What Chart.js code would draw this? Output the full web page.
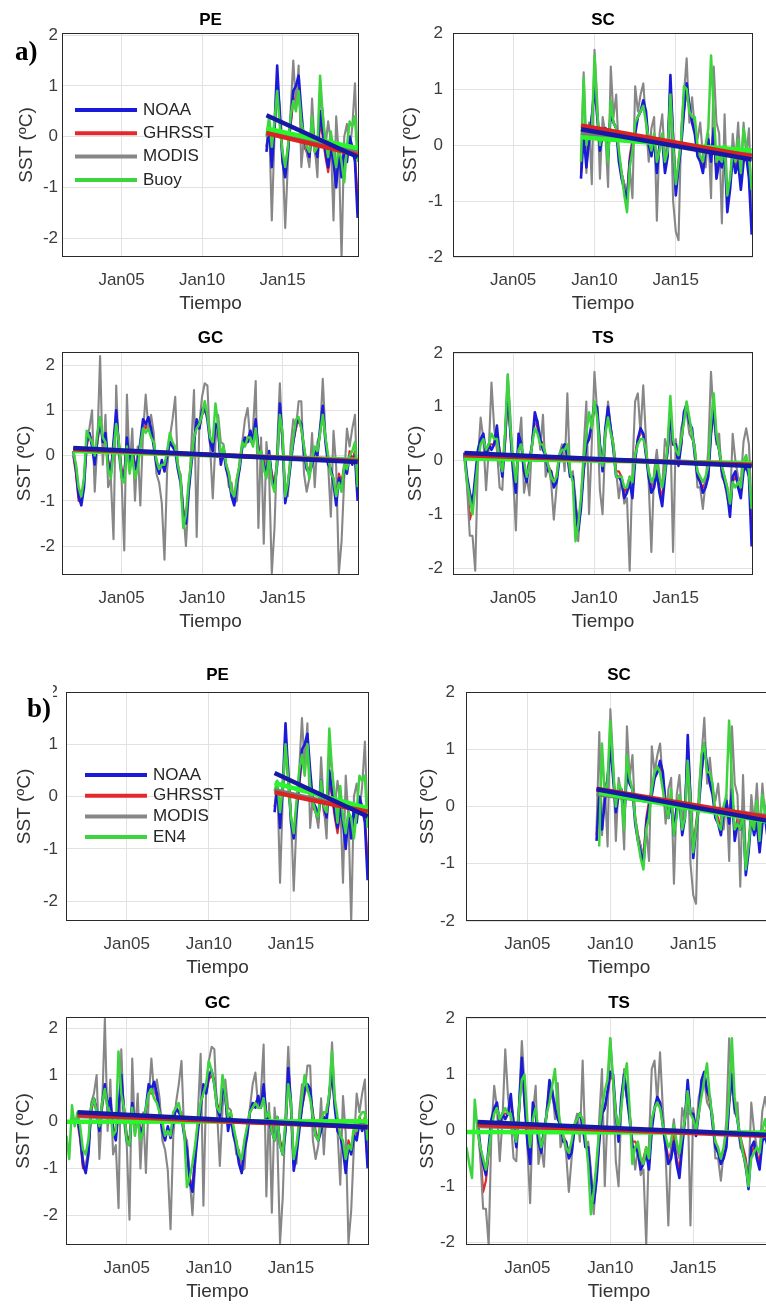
<!DOCTYPE html>
<html>
<head>
<meta charset="utf-8">
<script src="https://cdn.jsdelivr.net/npm/chart.js@4.4.1/dist/chart.umd.min.js"></script>
<style>
  html, body { margin: 0; padding: 0; background: #fff; overflow: hidden; }
  #fig { position: relative; width: 766px; height: 1306px; overflow: hidden; }
  #fig canvas { position: absolute; }
  .tag { position: absolute; font: bold 27px "Liberation Serif", serif; line-height: 1; color: #000; background: #fff; padding-right: 2px; }
</style>
</head>
<body>
<div id="fig">
  <div class="tag" style="left:15px; top:38px;">a)</div>
  <div class="tag" style="left:19px; top:682px; padding-top:13px; padding-left:8px;">b)</div>
</div>
<script>
// time axis
const xTickYears = [2005, 2010, 2015];
const xTickLabels = ['Jan05', 'Jan10', 'Jan15'];
const yTickValues = [-2, -1, 0, 1, 2];
const stepYears = 2 / 12;

const sourcesA = ['NOAA', 'GHRSST', 'MODIS', 'Buoy'];
const sourcesB = ['NOAA', 'GHRSST', 'MODIS', 'EN4'];

// series start (decimal years)
const peStart = 2014.0, scStart = 2009.17, gcStart = 2002.0, tsStart = 2002.0;
const peEn4Start = 2014.0, scEn4Start = 2009.33, gcEn4Start = 2001.33, tsEn4Start = 2001.33;

// PE
const peNoaa = [-0.3, 0.2, -0.6, 0.2, 1.4, 0.4, -0.5, -0.8, -0.3, 0.3,
  0.9, 1.0, 1.2, 0.5, -0.1, -0.2, -0.4, 0.3, -0.2, -0.4,
  0.5, 0.1, -0.3, -0.6, -0.2, -0.5, -1.0, -0.3, -0.8, -0.2,
  -0.5, 0.0, -0.2, -0.5, -1.6];
const peGhrsst = [-0.2, 0.1, -0.4, 0.1, 1.0, 0.3, -0.4, -0.7, -0.2, 0.2,
  0.7, 0.8, 0.9, 0.3, -0.2, -0.3, -0.5, 0.2, -0.3, -0.5,
  0.3, 0.0, -0.4, -0.7, -0.3, -0.5, -0.8, -0.4, -0.6, -0.3,
  -0.4, -0.1, -0.3, -0.4, -1.2];
const peModis = [-0.2, 0.3, -1.65, 0.0, 1.0, 0.6, -0.3, -1.8, -0.5, 0.5,
  1.5, 0.6, 1.4, -0.6, 0.0, -0.3, -0.6, 0.75, -0.2, -0.8,
  0.8, 0.5, -0.2, 0.3, -0.1, -1.65, 0.4, -0.4, -2.4, 0.0,
  0.25, -0.3, 0.2, 1.05, -0.5];
const peBuoy = [0.0, 0.4, -0.2, 0.3, 0.9, 0.2, -0.3, -0.6, -0.2, 0.4,
  0.7, 0.5, 0.9, 0.3, 0.0, -0.2, -0.3, 0.4, -0.3, -0.2,
  1.2, 0.4, -0.1, -0.4, 0.1, -0.3, -0.6, -0.2, -0.5, -0.9,
  -0.2, 0.3, 0.2, 0.4, -0.5];
const peEn4 = [0.1, 0.3, -0.3, 0.2, 1.0, 0.3, -0.4, -0.7, -0.1, 0.5,
  0.8, 0.4, 1.0, 0.2, -0.1, -0.3, -0.4, 0.3, -0.2, -0.3,
  1.3, 0.5, 0.0, -0.5, 0.2, -0.4, -0.7, -0.3, -0.4, -0.8,
  -0.3, 0.4, 0.3, 0.4, -0.6];

// SC
const scNoaa = [-0.6, 0.2, -0.4, 0.1, 0.5, 1.05, 0.5, -0.1, 0.2, 0.3,
  -0.2, 0.6, 0.4, 0.3, -0.3, -0.6, -0.8, -1.0, -0.3, 0.0,
  0.2, 0.5, 0.6, 0.8, 0.6, 0.0, -0.2, 0.1, -0.5, 0.0,
  0.1, -0.5, -0.2, 1.25, 0.1, -0.9, -0.4, 0.0, 0.6, 1.1,
  0.7, 0.4, 0.2, -0.2, -0.3, -0.5, -0.1, 0.1, -0.3, 0.3,
  -0.6, -0.3, -0.4, -0.1, -1.2, -0.8, -0.2, -0.5, -0.3, -0.8,
  -0.3, -0.2, -0.6, -1.6];
const scGhrsst = [-0.5, 0.3, -0.3, 0.2, 0.5, 1.0, 0.6, 0.0, 0.3, 0.3,
  -0.1, 0.6, 0.4, 0.3, -0.2, -0.5, -0.7, -0.9, -0.2, 0.1,
  0.3, 0.5, 0.6, 0.7, 0.5, 0.1, -0.1, 0.2, -0.4, 0.0,
  0.2, -0.4, -0.1, 1.1, 0.2, -0.8, -0.3, 0.1, 0.6, 1.0,
  0.7, 0.4, 0.3, -0.1, -0.2, -0.4, 0.0, 0.1, -0.2, 0.3,
  -0.5, -0.2, -0.3, 0.0, -1.0, -0.7, -0.1, -0.4, -0.2, -0.7,
  -0.2, -0.1, -0.5, -1.3];
const scModis = [-0.4, 1.3, -0.5, 0.4, -0.7, 1.7, 0.8, -0.6, 0.5, 0.2,
  -0.75, 1.4, 0.5, 0.9, -0.2, -0.5, -0.7, -0.9, -0.4, -0.95,
  1.05, 0.6, 0.9, 1.1, 0.4, -0.3, 0.3, 0.5, -1.35, 0.2,
  0.55, -0.3, 0.1, 0.9, -1.0, -1.55, -1.7, 0.3, 0.9, 1.55,
  0.4, 0.85, 0.3, 0.1, 0.4, -0.2, -0.4, 0.2, -0.95, 1.4,
  0.4, 0.2, -1.4, 0.55, -0.9, -0.8, 0.2, -0.3, 0.4, -0.5,
  0.4, -0.2, 0.3, -1.2];
const scBuoy = [-0.3, 1.2, 0.0, 0.3, 0.2, 1.6, 0.6, 0.0, 0.3, 0.2,
  -0.3, 0.8, 0.4, 0.3, -0.1, -0.5, -0.9, -1.2, -0.4, -0.1,
  0.4, 0.5, 0.6, 0.7, 0.4, 0.1, -0.1, 0.2, -0.3, -0.1,
  0.2, -0.3, -0.1, 0.9, 0.0, -0.7, -0.3, 0.1, 1.05, 1.0,
  0.6, 0.5, 0.5, 0.0, -0.2, -0.3, 0.0, 0.3, 1.6, 0.6,
  -0.3, -0.2, -0.3, 0.0, -0.9, -0.6, -0.1, -0.3, 0.1, -0.5,
  0.3, 0.0, -0.2, -0.8];
const scEn4 = [-0.7, 1.1, 0.2, 0.4, 1.5, 0.7, 0.0, 0.4, 0.3, -0.4,
  0.9, 0.5, 0.3, -0.2, -0.6, -0.9, -1.1, -0.4, -0.2, 0.3,
  0.6, 0.7, 0.6, 0.3, 0.0, -0.2, 0.3, -0.5, -0.2, 0.2,
  -0.4, -0.2, 0.8, 0.1, -0.8, -0.4, 0.0, 0.9, 1.1, 0.6,
  0.6, 0.4, -0.1, -0.3, -0.4, 0.0, 0.2, 1.5, 0.5, -0.4,
  -0.3, -0.4, -0.1, -1.1, -0.7, -0.2, -0.4, 0.1, -0.6, 0.2,
  -0.1, -0.3, -0.7];

// GC
const gcNoaa = [0.1, -0.3, -0.9, -1.1, -0.7, 0.3, 0.5, 0.2, -0.2, 0.4,
  0.8, 0.3, 0.5, -0.2, -0.4, 0.3, 1.0, 0.2, -0.4, -0.5,
  0.4, -0.2, 0.1, -0.3, -0.1, 0.3, 0.8, 0.7, 0.85, 0.6,
  0.2, -0.2, -0.4, -0.1, -0.35, 0.0, 0.3, 0.2, 0.1, -0.3,
  -0.6, -1.3, -1.5, -0.8, -0.2, 0.3, 0.8, 0.6, 1.0, 1.1,
  0.8, 0.3, 0.1, 0.7, 0.6, -0.2, 0.1, -0.3, -0.5, -0.9,
  -1.1, -0.6, -0.3, 0.2, 0.4, 0.3, 0.55, 0.3, 0.8, 0.1,
  0.0, -0.2, -0.4, 0.1, -0.5, -0.7, -0.2, 1.15, 0.4, -1.05,
  -0.7, -0.2, 0.3, 0.7, 0.8, 0.7, 0.1, -0.3, -0.4, -0.2,
  0.1, 0.0, 0.6, 1.1, 0.3, -0.2, -0.3, -0.6, -1.1, -0.5,
  -0.7, -0.3, -0.4, 0.0, -0.2, 0.0, -1.0];
const gcGhrsst = [0.0, -0.4, -1.0, -1.0, -0.6, 0.2, 0.5, 0.3, -0.1, 0.3,
  0.7, 0.4, 0.4, -0.1, -0.3, 0.2, 0.9, 0.3, -0.3, -0.4,
  0.3, -0.1, 0.2, -0.2, -0.1, 0.2, 0.7, 0.6, 0.8, 0.5,
  0.3, -0.1, -0.3, -0.2, -0.3, 0.1, 0.3, 0.2, 0.2, -0.2,
  -0.5, -1.2, -1.4, -0.7, -0.1, 0.3, 0.7, 0.6, 0.9, 1.0,
  0.9, 0.4, 0.2, 0.6, 0.5, -0.1, 0.2, -0.2, -0.4, -0.8,
  -1.0, -0.5, -0.2, 0.2, 0.3, 0.4, 0.5, 0.3, 0.7, 0.2,
  0.1, -0.1, -0.3, 0.0, -0.4, -0.6, -0.1, 1.0, 0.3, -0.9,
  -0.6, -0.1, 0.3, 0.6, 0.8, 0.6, 0.2, -0.2, -0.4, -0.1,
  0.1, 0.1, 0.5, 1.0, 0.4, -0.1, -0.3, -0.5, -1.0, -0.4,
  -0.6, -0.2, -0.3, 0.1, -0.1, 0.1, -0.9];
const gcModis = [0.0, -0.2, -0.8, -1.0, -0.5, 0.4, 0.6, 1.0, -0.8, 0.3,
  2.2, -0.2, 0.9, -0.7, -0.5, -1.85, 1.55, 0.0, -0.5, -2.1,
  1.35, -0.3, 0.6, -1.0, 0.2, -1.1, 0.5, 1.35, 0.6, 0.9,
  0.5, -0.4, -0.6, -1.05, -2.3, -0.3, 0.4, 0.8, 1.3, -0.3,
  -0.4, -1.2, -2.0, -0.9, 0.2, 1.45, -1.8, 0.7, 1.3, 1.6,
  1.55, 0.2, -0.95, 0.3, 0.9, 0.3, 0.25, -0.2, -0.7, -0.6,
  -1.05, -1.0, -0.1, 0.3, 0.8, 1.05, 0.3, 0.6, 1.65, -1.6,
  0.4, -1.95, 0.3, -0.4, -2.6, -1.6, 0.2, 1.6, 0.2, -0.9,
  -0.9, 0.2, 0.8, 0.6, 1.2, 1.2, -0.4, -0.8, -0.5, 0.5,
  -0.7, 0.3, 0.5, 1.7, 0.45, -0.2, -1.35, 0.55, -0.25, -2.6,
  -1.9, -0.5, 0.6, 0.2, 0.6, 0.9, -0.9];
const gcBuoy = [0.1, -0.2, -0.7, -0.9, -0.5, 0.55, 0.4, 0.3, 0.0, 0.5,
  0.85, 0.4, 0.3, -0.3, -0.5, 0.1, 0.7, 0.3, -0.5, -0.6,
  0.2, -0.4, 0.0, -0.5, -0.3, 0.2, 0.6, 0.5, 0.6, 0.4,
  0.3, -0.1, -0.3, -0.2, -0.2, 0.1, 0.5, 0.3, 0.2, -0.2,
  -0.5, -1.6, -1.3, -0.6, -0.1, 0.4, 0.6, 0.7, 0.9, 1.2,
  0.9, 0.4, 0.3, 1.15, 0.7, 0.0, 0.2, -0.2, -0.4, -0.8,
  -0.9, -0.5, -0.2, 0.3, 0.2, 0.4, 0.4, 0.2, 0.6, 0.0,
  0.1, -0.3, -0.5, 0.0, -0.6, -0.8, -0.1, 0.9, 0.5, -0.9,
  -0.6, -0.1, 0.4, 0.8, 0.85, 0.6, 0.2, -0.2, -0.5, -0.1,
  0.2, 0.1, 0.5, 0.9, 0.4, 0.0, -0.4, -0.5, -0.9, -0.6,
  -0.8, -0.2, -0.3, 0.0, 0.1, 0.3, -0.7];
const gcEn4 = [-0.3, -0.8, 0.35, -0.1,
  0.2, -0.1, -0.6, -0.7, -0.4, 0.3, 0.5, 0.2, -0.1, 0.4,
  0.7, 0.3, 0.2, -0.3, -0.2, 1.5, 0.6, 0.3, -0.4, -0.5,
  0.3, -0.3, 0.1, -0.4, -0.2, 0.3, 0.6, 0.7, 0.5, 0.4,
  0.2, 0.0, -0.3, -0.2, -0.3, 0.2, 0.3, 0.4, 0.1, -0.2,
  -1.4, -1.2, -0.9, -0.5, 0.0, 0.4, 0.6, 0.8, 1.3, 1.1,
  0.8, 0.3, 0.2, 1.0, 0.6, 0.1, 0.2, -0.1, -0.4, -0.7,
  -0.8, -0.4, -0.1, 0.2, 0.3, 0.4, 0.3, 0.3, 0.5, 0.1,
  0.2, -0.2, -0.4, 0.1, -0.5, -0.7, 0.0, 0.8, 0.4, -0.8,
  -0.5, 0.0, 0.5, 1.0, 0.7, 0.5, 0.1, -0.3, -0.4, 0.0,
  0.2, 0.2, 0.6, 1.5, 0.5, 0.1, -0.3, -0.4, -0.8, -0.5,
  -0.6, -0.1, -0.2, 0.1, 0.2, 0.2, -0.4];

// TS
const tsNoaa = [0.15, -0.3, -0.6, -0.8, -0.3, 0.2, 0.4, 0.5, 0.1, 0.3,
  0.2, 0.3, 0.65, 0.1, -0.3, 0.4, 1.3, 0.5, -0.2, -0.6,
  0.5, 0.3, -0.2, -0.4, 0.0, 0.3, 0.9, 0.7, 0.4, 0.2,
  0.1, -0.2, -0.2, -0.5, -0.4, 0.0, 0.2, 0.3, 0.1, -0.3,
  -0.3, -0.9, -1.3, -0.9, -0.2, 0.3, 0.4, 0.7, 1.05, 1.0,
  0.3, -0.2, 0.6, 1.0, 0.6, 0.2, -0.3, -0.3, -0.4, -0.7,
  -0.6, -0.4, -0.7, 0.0, 0.4, 0.6, 0.5, 0.1, -0.3, -0.6,
  -0.5, -0.2, -0.6, -0.85, -0.3, 0.2, 0.9, 0.3, 0.3, -0.1,
  0.3, 0.9, 1.05, 0.7, 0.6, 0.1, -0.3, -0.4, -0.6, -0.5,
  -0.3, 0.5, 1.0, 0.4, 0.2, -0.2, -0.4, -0.6, -1.05, -0.3,
  -0.2, -0.5, -0.7, -0.2, -0.1, -0.3, -1.6];
const tsGhrsst = [0.1, -0.4, -1.1, -0.9, -0.4, 0.1, 0.4, 0.4, 0.2, 0.3,
  0.3, 0.3, 0.5, 0.2, -0.2, 0.3, 1.2, 0.5, -0.1, -0.5,
  0.4, 0.3, -0.1, -0.3, 0.0, 0.3, 0.8, 0.6, 0.4, 0.3,
  0.1, -0.1, -0.2, -0.4, -0.3, 0.1, 0.2, 0.3, 0.2, -0.2,
  -0.3, -0.8, -1.2, -0.8, -0.2, 0.3, 0.4, 0.6, 1.0, 0.9,
  0.3, -0.1, 0.5, 0.9, 0.6, 0.3, -0.2, -0.2, -0.3, -0.6,
  -0.5, -0.3, -0.6, 0.1, 0.4, 0.5, 0.5, 0.2, -0.2, -0.5,
  -0.4, -0.1, -0.5, -0.7, -0.2, 0.2, 0.8, 0.3, 0.3, 0.0,
  0.3, 0.8, 1.0, 0.7, 0.5, 0.2, -0.2, -0.4, -0.5, -0.4,
  -0.2, 0.5, 0.9, 0.4, 0.2, -0.1, -0.3, -0.5, -0.9, -0.4,
  -0.3, -0.4, -0.6, -0.1, 0.0, -0.2, -1.3];
const tsModis = [0.1, -0.5, -1.4, -1.4, -2.05, 0.0, 0.8, 0.4, -0.55, 0.2,
  1.45, 0.6, 0.2, -0.5, -0.55, 0.5, 1.6, 0.8, -0.3, -1.3,
  0.3, 0.8, -0.6, -0.3, -0.65, 0.4, 0.7, 0.75, 0.2, 0.85,
  -0.3, -0.1, -0.4, -1.1, -0.5, 0.1, 0.3, -0.2, 1.25, -0.3,
  -0.2, -0.7, -1.5, -0.8, 0.2, 1.1, -1.0, 0.3, 1.65, 0.9,
  -0.55, -1.0, 0.4, 1.1, 0.6, 0.3, -0.2, -0.7, -0.3, -0.8,
  -0.7, -2.05, -0.2, 1.1, 1.25, 0.5, 1.4, 0.4, -0.4, -1.7,
  -0.2, 0.2, -0.3, -0.5, 0.4, 0.2, 0.6, -1.7, 0.4, 0.0,
  0.6, 0.8, 0.9, 0.5, 0.4, 0.3, -0.5, -0.5, -0.9, -0.4,
  0.2, 1.65, 0.8, 0.3, 0.5, -0.3, -0.4, -0.7, -0.9, 0.5,
  0.0, -0.3, -0.4, 0.35, 0.6, 0.3, -0.9];
const tsBuoy = [0.05, -0.4, -0.7, -1.0, -0.5, 0.0, 0.3, 0.4, 0.2, 0.3,
  0.5, 0.4, 0.4, 0.0, -0.2, 0.5, 1.6, 0.6, 0.0, -0.4,
  0.2, 0.3, 0.0, -0.3, -0.1, 0.3, 0.6, 0.5, 0.3, 0.3,
  0.1, -0.1, -0.3, -0.4, -0.3, 0.1, 0.2, 0.2, 0.3, -0.2,
  -0.4, -1.5, -1.2, -0.7, 0.0, 0.5, 0.9, 0.6, 1.1, 0.8,
  0.2, -0.1, 0.5, 0.8, 0.5, 0.3, -0.3, -0.3, -0.3, -0.5,
  -0.5, -0.3, -0.4, 0.1, 0.3, 0.4, 0.4, 0.2, -0.2, -0.4,
  -0.3, 0.0, -0.3, -0.5, -0.2, 0.3, 1.2, 0.4, 0.2, 0.1,
  0.4, 0.7, 1.1, 0.8, 0.5, 0.2, -0.2, -0.3, -0.4, -0.3,
  -0.1, 0.7, 1.25, 0.5, 0.2, -0.1, -0.3, -0.5, -0.8, -0.4,
  -0.5, -0.4, -0.5, 0.0, 0.1, -0.2, -0.9];
const tsEn4 = [-0.3, -0.6, -0.85, 0.55,
  0.0, -0.3, -0.5, -0.7, -0.4, 0.0, 0.3, 0.4, 0.2, 0.3,
  0.4, 0.3, 0.3, 0.0, -0.2, 0.4, 0.9, 1.0, 0.2, -0.3,
  0.2, 0.4, 0.0, -0.3, -0.1, 0.3, 0.5, 0.8, 1.1, 0.4,
  0.1, -0.1, -0.3, -0.4, -0.2, 0.1, 0.2, 0.3, 0.2, -0.1,
  -0.6, -1.5, -1.1, -0.6, 0.0, 0.4, 0.7, 0.9, 1.65, 0.9,
  0.3, 0.0, 0.4, 0.9, 1.2, 0.4, -0.6, -0.3, -0.2, -0.5,
  -0.6, -0.3, -0.5, 0.2, 0.4, 0.5, 0.4, 0.1, -0.1, -0.3,
  -0.2, 0.1, -0.2, -0.4, -0.1, 0.2, 0.7, 0.3, 0.2, 0.0,
  0.3, 0.6, 0.9, 1.2, 0.6, 0.2, -0.2, -0.3, -0.5, -0.3,
  0.0, 0.6, 1.65, 0.6, 0.2, -0.1, -0.4, -0.6, -1.0, -0.5,
  -0.4, -0.3, -0.4, 0.0, 0.2, -0.1, -0.6];

// linear trends, [first, last] value per source (NOAA, GHRSST, MODIS, Buoy/EN4)
const peTrendA = [[0.42, -0.4], [0.07, -0.36], [0.12, -0.28], [0.16, -0.23]];
const peTrendB = [[0.45, -0.38], [0.08, -0.29], [0.12, -0.28], [0.26, -0.22]];
const scTrendA = [[0.28, -0.26], [0.35, -0.2], [0.22, -0.18], [0.14, -0.1]];
const scTrendB = [[0.3, -0.26], [0.31, -0.2], [0.22, -0.18], [0.24, -0.27]];
const gcTrendA = [[0.17, -0.14], [0.14, -0.12], [0.12, -0.1], [0.1, -0.1]];
const gcTrendB = [[0.2, -0.12], [0.14, -0.12], [0.12, -0.1], [0.0, 0.01]];
const tsTrendA = [[0.14, -0.1], [0.1, -0.08], [0.08, -0.06], [0.04, -0.05]];
const tsTrendB = [[0.15, -0.08], [0.1, -0.1], [0.08, -0.06], [-0.03, -0.04]];

const lineColors = ['#1a1ad8', '#e3292b', '#878787', '#3ed43e'];
const trendColors = ['#1818a6', '#dd2222', '#7a7a7a', '#2bf52b'];
const lineWidths = [2.6, 2.2, 2.1, 2.5];
const seriesOrder = [5, 7, 6, 4];   // lower = drawn on top
const trendOrder = [0, 1, 3, 2];

// panel layout: canvas [left, top, w, h], chart area [l, t, r, b]
const panels = [
  { title: 'PE', canvas: [0, 0, 383, 320], area: [62, 33, 359, 257], y: [-2.37, 2.04], yTitleX: 27, yGap: 4, titleOff: 13,
    labels: sourcesA, values: [peNoaa, peGhrsst, peModis, peBuoy], starts: [peStart, peStart, peStart, peStart], trend: peTrendA,
    legend: { dx: 13, dy: 77, row: 23.3 } },
  { title: 'SC', canvas: [383, 0, 383, 320], area: [453, 33, 753, 257], y: [-2, 2], yTitleX: 411, yGap: 10, titleOff: 13,
    labels: sourcesA, values: [scNoaa, scGhrsst, scModis, scBuoy], starts: [scStart, scStart, scStart, scStart], trend: scTrendA },
  { title: 'GC', canvas: [0, 320, 383, 330], area: [62, 352, 359, 575], y: [-2.64, 2.29], yTitleX: 25, yGap: 7, titleOff: 14,
    labels: sourcesA, values: [gcNoaa, gcGhrsst, gcModis, gcBuoy], starts: [gcStart, gcStart, gcStart, gcStart], trend: gcTrendA },
  { title: 'TS', canvas: [383, 320, 383, 330], area: [453, 352, 753, 575], y: [-2.13, 2.02], yTitleX: 416, yGap: 10, titleOff: 14,
    labels: sourcesA, values: [tsNoaa, tsGhrsst, tsModis, tsBuoy], starts: [tsStart, tsStart, tsStart, tsStart], trend: tsTrendA },
  { title: 'PE', canvas: [0, 650, 383, 335], area: [66, 692, 369, 921], y: [-2.38, 2], yTitleX: 25, yGap: 8, titleOff: 17,
    labels: sourcesB, values: [peNoaa, peGhrsst, peModis, peEn4], starts: [peStart, peStart, peStart, peEn4Start], trend: peTrendB,
    legend: { dx: 19, dy: 83, row: 20.7 } },
  { title: 'SC', canvas: [383, 650, 400, 335], area: [466, 692, 772, 921], y: [-2, 2], yTitleX: 428, yGap: 11, titleOff: 17,
    labels: sourcesB, values: [scNoaa, scGhrsst, scModis, scEn4], starts: [scStart, scStart, scStart, scEn4Start], trend: scTrendB },
  { title: 'GC', canvas: [0, 985, 383, 321], area: [66, 1017, 369, 1245], y: [-2.64, 2.24], yTitleX: 24, yGap: 8, titleOff: 14,
    labels: sourcesB, values: [gcNoaa, gcGhrsst, gcModis, gcEn4], starts: [gcStart, gcStart, gcStart, gcEn4Start], trend: gcTrendB },
  { title: 'TS', canvas: [383, 985, 400, 321], area: [466, 1017, 772, 1245], y: [-2.05, 2.03], yTitleX: 428, yGap: 11, titleOff: 14,
    labels: sourcesB, values: [tsNoaa, tsGhrsst, tsModis, tsEn4], starts: [tsStart, tsStart, tsStart, tsEn4Start], trend: tsTrendB },
];

const FONT = '"Liberation Sans", Arial, sans-serif';
const TICK_SIZE = 17, AXIS_SIZE = 19, TITLE_SIZE = 17;

// black box round the axes, like MATLAB "box on"
const framePlugin = {
  id: 'frame',
  afterDatasetsDraw(chart) {
    const { ctx, chartArea: a } = chart;
    ctx.save();
    ctx.strokeStyle = '#2a2a2a';
    ctx.lineWidth = 1;
    ctx.strokeRect(Math.round(a.left) + 0.5, Math.round(a.top) + 0.5,
      Math.round(a.right - a.left) - 1, Math.round(a.bottom - a.top) - 1);
    ctx.restore();
  }
};

// legend drawn inside the axes, no box
const legendPlugin = {
  id: 'sstLegend',
  afterDraw(chart, args, opts) {
    if (!opts || !opts.labels) return;
    const { ctx, chartArea: a } = chart;
    ctx.save();
    ctx.font = `${TICK_SIZE}px ${FONT}`;
    ctx.textBaseline = 'middle';
    ctx.fillStyle = '#262626';
    ctx.lineWidth = 4;
    opts.labels.forEach((lab, i) => {
      const y = a.top + opts.dy + i * opts.row;
      const x0 = a.left + opts.dx;
      ctx.strokeStyle = lineColors[i];
      ctx.beginPath();
      ctx.moveTo(x0, y);
      ctx.lineTo(x0 + 62, y);
      ctx.stroke();
      ctx.fillText(lab, x0 + 68, y);
    });
    ctx.restore();
  }
};

function makeSeries(values, start, i) {
  return {
    data: values.map((v, k) => ({ x: start + k * stepYears, y: v })),
    borderColor: lineColors[i],
    borderWidth: lineWidths[i],
    order: seriesOrder[i],
    pointRadius: 0,
    tension: 0,
    borderJoinStyle: 'round',
    clip: 0,
  };
}

function makeTrend(pair, start, count, i) {
  return {
    data: [{ x: start, y: pair[0] }, { x: start + (count - 1) * stepYears, y: pair[1] }],
    borderColor: trendColors[i],
    borderWidth: 4.5,
    order: trendOrder[i],
    pointRadius: 0,
    clip: 0,
  };
}

const fig = document.getElementById('fig');

panels.forEach(p => {
  const [cl, ct, cw, ch] = p.canvas;
  const [al, at, ar, ab] = p.area;
  const canvas = document.createElement('canvas');
  canvas.width = cw;
  canvas.height = ch;
  canvas.style.left = cl + 'px';
  canvas.style.top = ct + 'px';
  canvas.style.width = cw + 'px';
  canvas.style.height = ch + 'px';
  fig.insertBefore(canvas, fig.firstChild);

  const axisHalf = AXIS_SIZE * 1.2 / 2;
  const titleLine = TITLE_SIZE * 1.2;
  const padLeft = p.yTitleX - axisHalf - cl;
  const yWidth = al - cl - padLeft;
  const titleBottom = p.titleOff - titleLine / 2;
  const padTop = at - ct - titleLine - titleBottom;
  const xHeight = 47 + axisHalf;
  const padBottom = ct + ch - ab - xHeight;
  const padRight = cl + cw - ar;

  const datasets = [];
  p.values.forEach((vals, i) => datasets.push(makeSeries(vals, p.starts[i], i)));
  p.trend.forEach((pair, i) => datasets.push(makeTrend(pair, p.starts[i], p.values[i].length, i)));

  new Chart(canvas, {
    type: 'line',
    data: { datasets },
    plugins: [framePlugin, legendPlugin],
    options: {
      responsive: false,
      animation: false,
      events: [],
      layout: { padding: { left: padLeft, right: padRight, top: padTop, bottom: padBottom } },
      scales: {
        x: {
          type: 'linear',
          min: 2001.3,
          max: 2019.75,
          afterBuildTicks: s => { s.ticks = xTickYears.map(v => ({ value: v })); },
          afterFit: s => { s.height = xHeight; },
          ticks: {
            padding: 13,
            color: '#3c3c3c',
            font: { family: FONT, size: TICK_SIZE },
            callback: v => xTickLabels[xTickYears.indexOf(v)],
          },
          grid: { color: '#e2e2e2', drawTicks: false },
          border: { display: false },
          title: { display: true, text: 'Tiempo', color: '#333', font: { family: FONT, size: AXIS_SIZE }, padding: 0 },
        },
        y: {
          type: 'linear',
          min: p.y[0],
          max: p.y[1],
          afterBuildTicks: s => { s.ticks = yTickValues.map(v => ({ value: v })); },
          afterFit: s => { s.width = yWidth; },
          ticks: {
            padding: p.yGap,
            color: '#3c3c3c',
            font: { family: FONT, size: TICK_SIZE },
          },
          grid: { color: '#e2e2e2', drawTicks: false },
          border: { display: false },
          title: { display: true, text: 'SST (ºC)', color: '#333', font: { family: FONT, size: AXIS_SIZE }, padding: 0 },
        },
      },
      plugins: {
        legend: { display: false },
        tooltip: { enabled: false },
        title: {
          display: true,
          text: p.title,
          fullSize: false,
          color: '#000',
          font: { family: FONT, size: TITLE_SIZE, weight: 'bold' },
          padding: { top: 0, bottom: titleBottom },
        },
        sstLegend: p.legend ? { labels: p.labels, dx: p.legend.dx, dy: p.legend.dy, row: p.legend.row } : {},
      },
    },
  });
});
</script>
</body>
</html>
